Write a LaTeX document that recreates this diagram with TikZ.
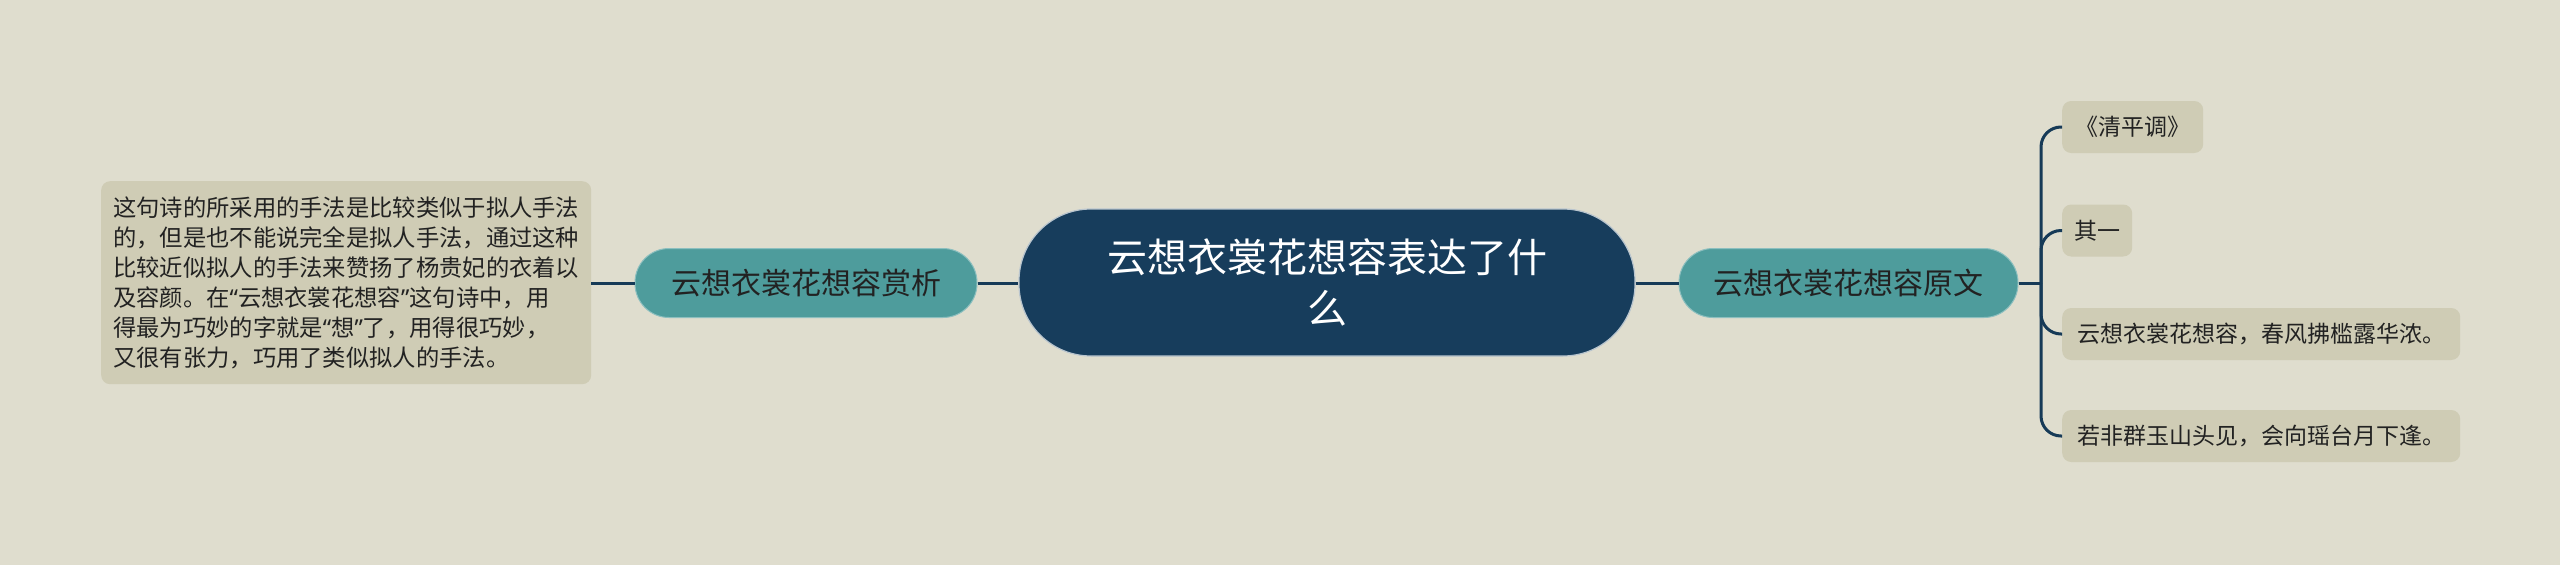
\documentclass[tikz,border=0pt]{standalone}
\usepackage{fontspec}
\setmainfont{Noto Sans CJK SC}
\newfontfamily\latinq{Noto Sans}
\newcommand{\myoq}{{\latinq “}}
\newcommand{\mycq}{{\latinq ”}}
\definecolor{bgc}{HTML}{DFDDCE}
\definecolor{navy}{HTML}{173D5C}
\definecolor{tealc}{HTML}{4E9C9C}
\definecolor{leafc}{HTML}{CFCCB5}
\definecolor{linec}{HTML}{163A57}
\definecolor{txt}{HTML}{222222}
\begin{document}
\begin{tikzpicture}[x=1pt,y=-1pt,
  conn/.style={draw=linec, line width=3pt},
  rootbox/.style={fill=navy, draw=white!70!navy, line width=1.2pt, rounded corners=72pt, minimum width=616pt, minimum height=147pt, text=white, align=center, font=\fontsize{40}{51}\selectfont},
  mainbox/.style={fill=tealc, draw=white!35!tealc, line width=1pt, rounded corners=34pt, minimum height=69pt, text=txt, font=\fontsize{30}{36}\selectfont},
  leafbox/.style={fill=leafc, rounded corners=9pt, minimum height=52pt, text=txt, anchor=west, inner xsep=12pt, font=\fontsize{23}{28}\selectfont, align=left},
  notebox/.style={fill=leafc, rounded corners=9pt, minimum width=490pt, minimum height=203pt, text=txt, anchor=north west, align=left, font=\fontsize{23.3}{30}\selectfont}
]
\path[fill=bgc] (0,0) rectangle (2560,565);
\node[rootbox] (root) at (1327,282.5) {云想衣裳花想容表达了什\\么};
\node[mainbox, minimum width=342pt] (ana) at (806,283) {云想衣裳花想容赏析};
\node[mainbox, minimum width=339pt] (orig) at (1848.5,283) {云想衣裳花想容原文};
\node[notebox] (note) at (101,181) {这句诗的所采用的手法是比较类似于拟人手法\\的，但是也不能说完全是拟人手法，通过这种\\比较近似拟人的手法来赞扬了杨贵妃的衣着以\\及容颜。在\myoq 云想衣裳花想容\mycq 这句诗中，用\\得最为巧妙的字就是\myoq 想\mycq 了，用得很巧妙，\\又很有张力，巧用了类似拟人的手法。};
\node[leafbox, minimum width=141pt] (l1) at (2062,127) {《清平调》};
\node[leafbox, minimum width=70pt] (l2) at (2062,230.5) {其一};
\node[leafbox, minimum width=398pt] (l3) at (2062,334) {云想衣裳花想容，春风拂槛露华浓。};
\node[leafbox, minimum width=398pt] (l4) at (2062,436) {若非群玉山头见，会向瑶台月下逢。};
\coordinate (j) at (2041,283);
\draw[conn] (note.east|-ana.west) -- (ana.west);
\draw[conn] (ana.east) -- (root.west|-ana.east);
\draw[conn] (root.east|-orig.west) -- (orig.west);
\draw[conn] (orig.east) -- (j);
\foreach \l in {l1,l2,l3,l4}{
  \draw[conn, rounded corners=20pt] (j) |- (\l.west);
}
\end{tikzpicture}
\end{document}
